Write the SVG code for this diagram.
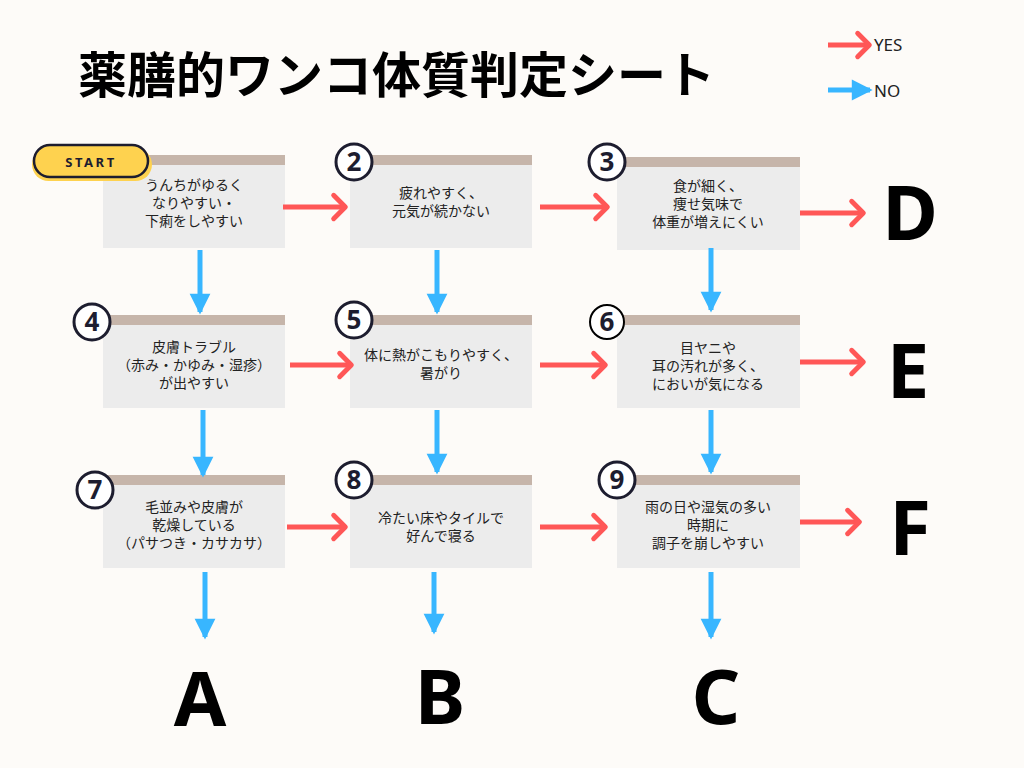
<svg xmlns="http://www.w3.org/2000/svg" width="1024" height="768" viewBox="0 0 1024 768">
<defs>
<marker id="hr" viewBox="0 0 10 10" refX="8" refY="5" markerWidth="6.5" markerHeight="6.5" orient="auto" markerUnits="strokeWidth"><path d="M4.2,1.4 L7.8,5 L4.2,8.6" fill="none" stroke="#ff5757" stroke-width="1.5" stroke-linecap="round" stroke-linejoin="round"/></marker>
<marker id="hb" viewBox="0 0 10 10" refX="8" refY="5" markerWidth="5.2" markerHeight="5.2" orient="auto" markerUnits="strokeWidth"><path d="M1,1 L9,5 L1,9 Z" fill="#38b6ff"/></marker>
</defs>
<style>
.body{fill:#ececec}.bar{fill:#c6b5aa}
.t{font-family:"Noto Sans CJK JP","Noto Sans",sans-serif;font-size:14px;fill:#222;text-anchor:middle}
.r{stroke:#ff5757;stroke-width:5;fill:none;marker-end:url(#hr)}
.b{stroke:#38b6ff;stroke-width:5;fill:none;marker-end:url(#hb)}
.num{fill:#fff;stroke:#1d1d2f;stroke-width:3}
.nt{font-family:"Noto Sans",sans-serif;font-size:26px;font-weight:bold;fill:#1d1d2f;text-anchor:middle}
.big{font-family:"Noto Sans","Liberation Sans",sans-serif;font-size:76px;font-weight:bold;fill:#000;text-anchor:middle}
.leg{font-family:"Noto Sans",sans-serif;font-size:17px;fill:#222}
</style>
<rect width="1024" height="768" fill="#fdfbf8"/>
<text x="78" y="93" font-family="Noto Sans CJK JP,sans-serif" font-size="49" font-weight="bold" fill="#000">薬膳的ワンコ体質判定シート</text>
<g id="legend">
<line x1="828" y1="45" x2="870" y2="45" class="r"/><text x="874" y="51" class="leg">YES</text>
<line x1="828" y1="90" x2="870" y2="90" class="b"/><text x="874" y="97" class="leg">NO</text>
</g>
<g id="n1"><rect x="103" y="155" width="182" height="93" class="body"/><rect x="103" y="155" width="182" height="10" class="bar"/>
<text class="t"><tspan x="194" y="190">うんちがゆるく</tspan><tspan x="194" y="208">なりやすい・</tspan><tspan x="194" y="226">下痢をしやすい</tspan></text></g>
<g id="start"><rect x="32" y="148" width="120" height="33" rx="16.5" fill="#fed24f"/><rect x="34" y="145" width="114" height="32" rx="16" fill="#fed24f" stroke="#1d1d2f" stroke-width="2.5"/>
<text x="91" y="167" font-family="Noto Sans,sans-serif" font-size="13" font-weight="bold" letter-spacing="2.5" fill="#1d1d2f" text-anchor="middle">START</text></g>
<g id="n2"><rect x="350" y="155" width="182" height="93" class="body"/><rect x="350" y="155" width="182" height="10" class="bar"/>
<circle cx="354" cy="162" r="18" class="num"/><text x="354" y="171" class="nt">2</text>
<text class="t"><tspan x="441" y="198">疲れやすく、</tspan><tspan x="441" y="216">元気が続かない</tspan></text></g>
<g id="n3"><rect x="617" y="157" width="183" height="93" class="body"/><rect x="617" y="157" width="183" height="10" class="bar"/>
<circle cx="607" cy="162" r="18" class="num"/><text x="607" y="171" class="nt">3</text>
<text class="t"><tspan x="708" y="191">食が細く、</tspan><tspan x="708" y="209">痩せ気味で</tspan><tspan x="708" y="227">体重が増えにくい</tspan></text></g>
<g id="n4"><rect x="103" y="315" width="182" height="93" class="body"/><rect x="103" y="315" width="182" height="10" class="bar"/>
<circle cx="92" cy="322" r="18" class="num"/><text x="92" y="331" class="nt">4</text>
<text class="t"><tspan x="194" y="352">皮膚トラブル</tspan><tspan x="194" y="370">（赤み・かゆみ・湿疹）</tspan><tspan x="194" y="388">が出やすい</tspan></text></g>
<g id="n5"><rect x="350" y="315" width="182" height="93" class="body"/><rect x="350" y="315" width="182" height="10" class="bar"/>
<circle cx="354" cy="320" r="18" class="num"/><text x="354" y="329" class="nt">5</text>
<text class="t"><tspan x="441" y="360">体に熱がこもりやすく、</tspan><tspan x="441" y="378">暑がり</tspan></text></g>
<g id="n6"><rect x="617" y="315" width="183" height="93" class="body"/><rect x="617" y="315" width="183" height="10" class="bar"/>
<circle cx="607" cy="322" r="17" fill="#fff" stroke="#000" stroke-width="2"/><text x="607" y="331" class="nt" fill="#000">6</text>
<text class="t"><tspan x="708" y="353">目ヤニや</tspan><tspan x="708" y="371">耳の汚れが多く、</tspan><tspan x="708" y="389">においが気になる</tspan></text></g>
<g id="n7"><rect x="103" y="475" width="182" height="93" class="body"/><rect x="103" y="475" width="182" height="10" class="bar"/>
<circle cx="95" cy="490" r="18" class="num"/><text x="95" y="499" class="nt">7</text>
<text class="t"><tspan x="194" y="512">毛並みや皮膚が</tspan><tspan x="194" y="530">乾燥している</tspan><tspan x="194" y="548">（パサつき・カサカサ）</tspan></text></g>
<g id="n8"><rect x="350" y="475" width="182" height="93" class="body"/><rect x="350" y="475" width="182" height="10" class="bar"/>
<circle cx="354" cy="480" r="18" class="num"/><text x="354" y="489" class="nt">8</text>
<text class="t"><tspan x="441" y="523">冷たい床やタイルで</tspan><tspan x="441" y="541">好んで寝る</tspan></text></g>
<g id="n9"><rect x="617" y="475" width="183" height="93" class="body"/><rect x="617" y="475" width="183" height="10" class="bar"/>
<circle cx="617" cy="480" r="18" class="num"/><text x="617" y="489" class="nt">9</text>
<text class="t"><tspan x="708" y="512">雨の日や湿気の多い</tspan><tspan x="708" y="530">時期に</tspan><tspan x="708" y="548">調子を崩しやすい</tspan></text></g>
<g id="results">
<text x="910" y="240" class="big">D</text><text x="908" y="398" class="big">E</text><text x="910" y="555" class="big">F</text>
<text x="200" y="726" class="big">A</text><text x="440" y="724" class="big">B</text><text x="716" y="724" class="big">C</text>
</g>
<g id="connectors">
<line x1="283" y1="207" x2="346" y2="207" class="r"/><line x1="540" y1="207" x2="608" y2="207" class="r"/><line x1="800" y1="213" x2="864" y2="213" class="r"/>
<line x1="290" y1="365" x2="352" y2="365" class="r"/><line x1="540" y1="365" x2="606" y2="365" class="r"/><line x1="800" y1="362" x2="864" y2="362" class="r"/>
<line x1="287" y1="527" x2="346" y2="527" class="r"/><line x1="540" y1="527" x2="606" y2="527" class="r"/><line x1="800" y1="522" x2="860" y2="522" class="r"/>
<line x1="200" y1="250" x2="200" y2="312" class="b"/><line x1="437" y1="250" x2="437" y2="312" class="b"/><line x1="711" y1="248" x2="711" y2="310" class="b"/>
<line x1="203" y1="410" x2="203" y2="475" class="b"/><line x1="437" y1="410" x2="437" y2="472" class="b"/><line x1="711" y1="410" x2="711" y2="472" class="b"/>
<line x1="205" y1="572" x2="205" y2="637" class="b"/><line x1="434" y1="572" x2="434" y2="632" class="b"/><line x1="711" y1="572" x2="711" y2="637" class="b"/>
</g>
</svg>
